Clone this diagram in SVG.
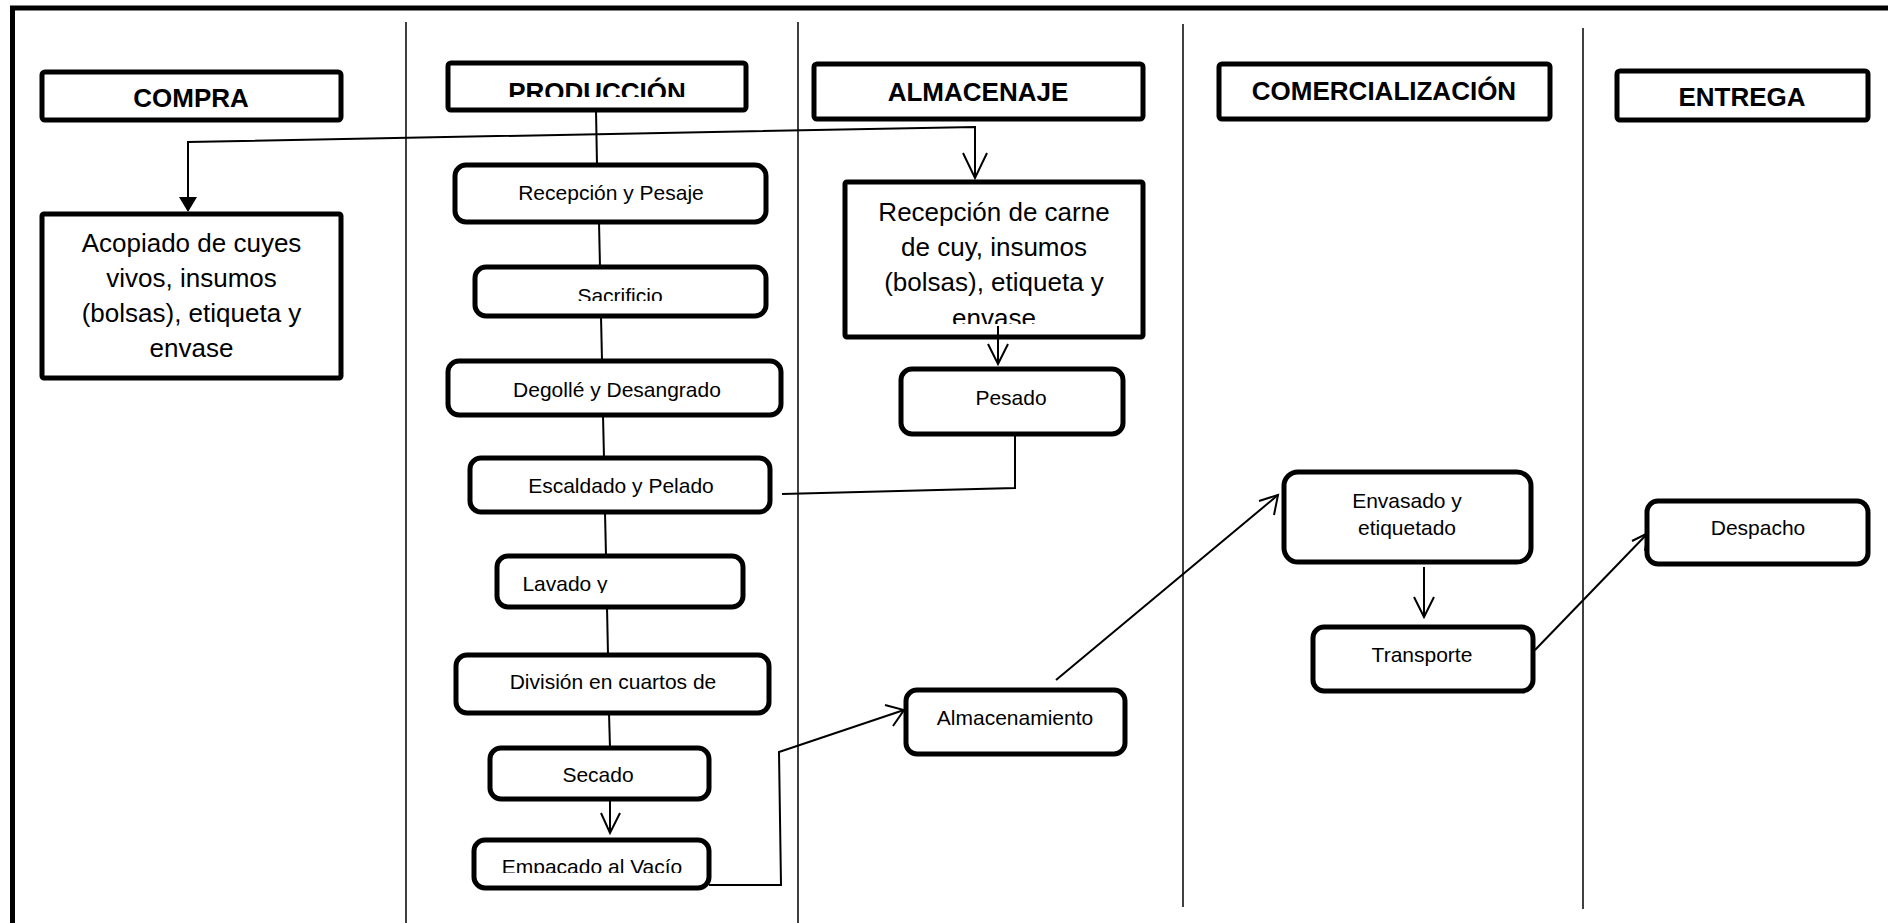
<svg xmlns="http://www.w3.org/2000/svg" width="1888" height="923" viewBox="0 0 1888 923">
  <style>
    .frame { fill: none; stroke: #000; stroke-width: 5; }
    .lane { fill: none; stroke: #000; stroke-width: 1.5; }
    .hdr { fill: #fff; stroke: #000; stroke-width: 5; }
    .box { fill: #fff; stroke: #000; stroke-width: 5; }
    .step { fill: #fff; stroke: #000; stroke-width: 5; }
    .ln { fill: none; stroke: #000; stroke-width: 2; }
    .hd { fill: none; stroke: #000; stroke-width: 2; stroke-linejoin: miter; }
    .ht { font-family: "Liberation Sans", Arial, sans-serif; font-weight: bold; font-size: 26px; fill: #000; text-anchor: middle; }
    .bt { font-family: "Liberation Sans", Arial, sans-serif; font-size: 26px; fill: #000; text-anchor: middle; }
    .st { font-family: "Liberation Sans", Arial, sans-serif; font-size: 21px; fill: #000; text-anchor: middle; }
  </style>
  <defs>
    <clipPath id="clipProd"><rect x="447" y="60" width="300" height="37"/></clipPath>
    <clipPath id="clipSacr"><rect x="474" y="267" width="292" height="34"/></clipPath>
    <clipPath id="clipLav"><rect x="497" y="556" width="246" height="37"/></clipPath>
    <clipPath id="clipEmp"><rect x="474" y="839" width="235" height="34"/></clipPath>
    <clipPath id="clipRec"><rect x="845" y="182" width="298" height="142"/></clipPath>
  </defs>

  <rect width="1888" height="923" fill="#fff"/>

  <!-- outer frame and lane dividers -->
  <g id="frame">
    <polyline class="frame" points="12.5,923 12.5,8 1888,8"/>
    <line class="lane" x1="406" y1="22" x2="406" y2="923"/>
    <line class="lane" x1="798" y1="22" x2="798" y2="923"/>
    <line class="lane" x1="1183" y1="24" x2="1183" y2="907"/>
    <line class="lane" x1="1583" y1="28" x2="1583" y2="909"/>
  </g>

  <!-- lane headers -->
  <g id="hdr-compra">
    <rect class="hdr" x="42" y="72" width="299" height="48" rx="3"/>
    <text class="ht" x="191" y="107">COMPRA</text>
  </g>
  <g id="hdr-produccion">
    <rect class="hdr" x="448" y="63" width="298" height="47" rx="3"/>
    <text class="ht" x="597" y="101" clip-path="url(#clipProd)">PRODUCCIÓN</text>
  </g>
  <g id="hdr-almacenaje">
    <rect class="hdr" x="814" y="64" width="329" height="55" rx="3"/>
    <text class="ht" x="978" y="101">ALMACENAJE</text>
  </g>
  <g id="hdr-comercializacion">
    <rect class="hdr" x="1219" y="64" width="331" height="55" rx="3"/>
    <text class="ht" x="1384" y="100">COMERCIALIZACIÓN</text>
  </g>
  <g id="hdr-entrega">
    <rect class="hdr" x="1617" y="71" width="251" height="49" rx="3"/>
    <text class="ht" x="1742" y="106">ENTREGA</text>
  </g>

  <!-- COMPRA lane -->
  <g id="acopiado">
    <rect class="box" x="42" y="214" width="299" height="164" rx="2"/>
    <text class="bt" x="191.5" y="252">Acopiado de cuyes</text>
    <text class="bt" x="191.5" y="287">vivos, insumos</text>
    <text class="bt" x="191.5" y="322">(bolsas), etiqueta y</text>
    <text class="bt" x="191.5" y="357">envase</text>
  </g>

  <!-- PRODUCCIÓN lane -->
  <g id="recepcion-pesaje">
    <rect class="step" x="455" y="165" width="311" height="57" rx="11"/>
    <text class="st" x="611" y="200">Recepción y Pesaje</text>
  </g>
  <g id="sacrificio">
    <rect class="step" x="475" y="267" width="291" height="49" rx="11"/>
    <text class="st" x="620" y="303" clip-path="url(#clipSacr)">Sacrificio</text>
  </g>
  <g id="degolle">
    <rect class="step" x="448" y="361" width="333" height="54" rx="11"/>
    <text class="st" x="617" y="397">Degollé y Desangrado</text>
  </g>
  <g id="escaldado">
    <rect class="step" x="470" y="458" width="300" height="54" rx="11"/>
    <text class="st" x="621" y="493">Escaldado y Pelado</text>
  </g>
  <g id="lavado">
    <rect class="step" x="497" y="556" width="246" height="51" rx="11"/>
    <text class="st" x="565" y="591" clip-path="url(#clipLav)">Lavado y</text>
  </g>
  <g id="division">
    <rect class="step" x="456" y="655" width="313" height="58" rx="11"/>
    <text class="st" x="613" y="689">División en cuartos de</text>
  </g>
  <g id="secado">
    <rect class="step" x="490" y="748" width="219" height="51" rx="11"/>
    <text class="st" x="598" y="782">Secado</text>
  </g>
  <g id="empacado">
    <rect class="step" x="474" y="840" width="235" height="48" rx="11"/>
    <text class="st" x="592" y="874" clip-path="url(#clipEmp)">Empacado al Vacío</text>
  </g>

  <!-- ALMACENAJE lane -->
  <g id="recepcion-carne">
    <rect class="box" x="845" y="182" width="298" height="155" rx="2"/>
    <g clip-path="url(#clipRec)">
      <text class="bt" x="994" y="221">Recepción de carne</text>
      <text class="bt" x="994" y="256">de cuy, insumos</text>
      <text class="bt" x="994" y="291">(bolsas), etiqueta y</text>
      <text class="bt" x="994" y="327">envase</text>
    </g>
  </g>
  <g id="pesado">
    <rect class="step" x="901" y="369" width="222" height="65" rx="11"/>
    <text class="st" x="1011" y="405">Pesado</text>
  </g>
  <g id="almacenamiento">
    <rect class="step" x="906" y="690" width="219" height="64" rx="11"/>
    <text class="st" x="1015" y="725">Almacenamiento</text>
  </g>

  <!-- COMERCIALIZACIÓN lane -->
  <g id="envasado">
    <rect class="step" x="1284" y="472" width="247" height="90" rx="14"/>
    <text class="st" x="1407" y="508">Envasado y</text>
    <text class="st" x="1407" y="535">etiquetado</text>
  </g>
  <g id="transporte">
    <rect class="step" x="1313" y="627" width="220" height="64" rx="11"/>
    <text class="st" x="1422" y="662">Transporte</text>
  </g>

  <!-- ENTREGA lane -->
  <g id="despacho">
    <rect class="step" x="1647" y="501" width="221" height="63" rx="11"/>
    <text class="st" x="1758" y="535">Despacho</text>
  </g>

  <!-- connectors -->
  <g id="connectors">
    <!-- supply line from PRODUCCIÓN to both reception boxes -->
    <polyline class="ln" points="188,199 188,142 975,127 975,177"/>
    <polygon points="179,197 197,197 188,212" fill="#000"/>
    <polyline class="hd" points="963,153 975,178 987,153"/>

    <!-- production chain -->
    <line class="ln" x1="596" y1="110" x2="597" y2="165"/>
    <line class="ln" x1="599" y1="222" x2="600" y2="267"/>
    <line class="ln" x1="601" y1="316" x2="602" y2="361"/>
    <line class="ln" x1="603" y1="415" x2="604" y2="458"/>
    <line class="ln" x1="605" y1="512" x2="606" y2="556"/>
    <line class="ln" x1="607" y1="607" x2="608" y2="655"/>
    <line class="ln" x1="609" y1="713" x2="610" y2="748"/>
    <line class="ln" x1="610" y1="799" x2="610" y2="833"/>
    <polyline class="hd" points="601,813 610,833 620,813"/>

    <!-- reception to weighing -->
    <line class="ln" x1="998" y1="326" x2="998" y2="363"/>
    <polyline class="hd" points="988,344 998,364 1008,344"/>

    <!-- weighing back to scalding -->
    <polyline class="ln" points="1015,434 1015,488 782,494"/>

    <!-- vacuum packing to storage -->
    <polyline class="ln" points="709,885 781,885 779,752 904,710"/>
    <polyline class="hd" points="885,705 904,710 893,726"/>

    <!-- storage to packaging -->
    <line class="ln" x1="1056" y1="680" x2="1278" y2="495"/>
    <polyline class="hd" points="1259,501 1278,495 1274,515"/>

    <!-- packaging to transport -->
    <line class="ln" x1="1424" y1="567" x2="1424" y2="616"/>
    <polyline class="hd" points="1414,597 1424,617 1434,597"/>

    <!-- transport to dispatch -->
    <line class="ln" x1="1535" y1="650" x2="1648" y2="533"/>
    <polyline class="hd" points="1632,541 1648,533 1645,551"/>
  </g>
</svg>
